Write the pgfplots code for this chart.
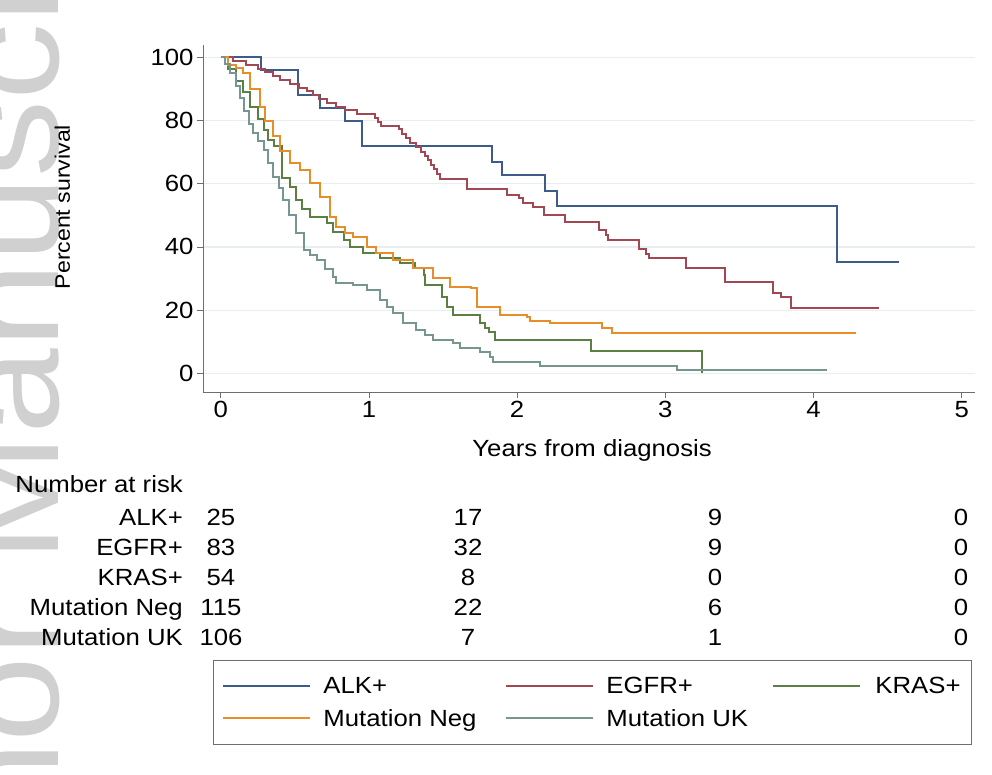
\documentclass[border=0pt]{standalone}
\usepackage{fontspec}
\setmainfont{Liberation Sans}[FakeStretch=1.1]
\usepackage{pgfplots}
\pgfplotsset{compat=1.18}
\definecolor{cALK}{RGB}{62,92,138}
\definecolor{cEGFR}{RGB}{162,72,84}
\definecolor{cKRAS}{RGB}{92,128,68}
\definecolor{cNEG}{RGB}{232,142,40}
\definecolor{cUK}{RGB}{118,150,144}
\definecolor{gridc}{RGB}{232,238,240}
\definecolor{axisc}{RGB}{110,110,110}
\definecolor{wmark}{RGB}{208,208,208}
\newcommand{\fs}{\fontsize{23.4}{28}\selectfont}
\begin{document}
\begin{tikzpicture}
\useasboundingbox (0pt,0pt) rectangle (992pt,774pt);
\node[rotate=90, anchor=base west, text=wmark, font=\fontsize{140}{140}\selectfont, inner sep=0pt] at (58pt,-285pt) {Author Manuscript};
\begin{axis}[
  at={(203pt,382pt)}, anchor=south west,
  scale only axis, width=772pt, height=347pt,
  xmin=-0.12, xmax=5.09, ymin=-5.9, ymax=103.9,
  axis x line*=bottom, axis y line*=left,
  axis line style={axisc, line width=1pt},
  xtick={0,1,2,3,4,5}, ytick={0,20,40,60,80,100},
  tick align=outside, major tick length=6pt,
  tick style={axisc, line width=0.8pt},
  ymajorgrids, grid style={gridc, line width=1.2pt},
  tick label style={font=\fs},
  /pgf/number format/assume math mode=true,
  xlabel={Years from diagnosis},
  xlabel style={at={(axis description cs:0.504,-0.167)}, anchor=center, font=\fs},
  ylabel={Percent survival},
  ylabel style={at={(axis description cs:-0.182,0.533)}, anchor=center, font=\fontsize{21}{25}\selectfont},
  const plot, no markers,
  every axis plot/.append style={line width=2pt},
  legend columns=3,
  legend image code/.code={\draw[#1] (0pt,0pt) -- (87pt,0pt);},
  legend style={at={(axis description cs:0.013,-0.772)}, anchor=north west,
    draw=axisc, line width=0.8pt, inner xsep=9pt, inner ysep=15pt,
    font=\fs, column sep=0pt, row sep=10pt, cells={anchor=west}},
]
\addplot[cALK] coordinates {(0,100)(0.27,96)(0.52,88)(0.67,84)(0.84,80)(0.955,72)(1.83,67)(1.895,62.7)(2.19,57.8)(2.27,53)(4.16,35.3)(4.58,35.3)};
\addlegendentry{\hspace*{10pt}\makebox[180pt][l]{ALK+}}
\addplot[cEGFR] coordinates {(0,100)(0.08,98.8)(0.17,97.6)(0.25,96.4)(0.30,95.2)(0.35,94.0)(0.40,92.8)(0.47,91.6)(0.53,90.4)(0.58,89.2)(0.62,88.0)(0.66,86.8)(0.72,85.6)(0.78,84.4)(0.84,83.2)(0.92,82.0)(1.04,80.8)(1.06,79.6)(1.08,78.4)(1.20,77.2)(1.22,75.8)(1.25,74.4)(1.28,73.0)(1.32,71.6)(1.35,70.2)(1.38,68.8)(1.40,67.4)(1.42,66.0)(1.44,64.6)(1.46,63.2)(1.48,61.5)(1.66,58.2)(1.93,56.4)(2.01,55.4)(2.04,53.8)(2.11,52.7)(2.18,50.1)(2.32,48.0)(2.55,45.3)(2.60,43.7)(2.615,42.2)(2.82,39.5)(2.87,37.8)(2.89,36.4)(3.14,33.2)(3.40,29.0)(3.73,25.3)(3.78,24.2)(3.85,20.6)(4.44,20.6)};
\addlegendentry{\hspace*{10pt}\makebox[164pt][l]{EGFR+}}
\addplot[cKRAS] coordinates {(0,100)(0.05,96.3)(0.10,92.6)(0.15,88.9)(0.20,84.4)(0.25,80.5)(0.29,77)(0.32,73.8)(0.36,72)(0.41,61.7)(0.47,59.1)(0.51,54.8)(0.55,52)(0.60,49.6)(0.715,47.5)(0.76,44.8)(0.83,42.2)(0.87,40.1)(0.96,38.0)(1.075,36.4)(1.21,34.8)(1.31,33.2)(1.37,31.1)(1.38,27.9)(1.49,24.2)(1.53,21)(1.57,18.4)(1.75,15.8)(1.78,14.5)(1.81,13.2)(1.85,10.5)(2.50,7.2)(3.245,0)(3.245,0)};
\addlegendentry{\hspace*{12pt}KRAS+}
\addplot[cNEG] coordinates {(0,100)(0.05,97.5)(0.10,96.5)(0.15,94.9)(0.20,90)(0.265,84.4)(0.30,80)(0.35,75)(0.40,70.5)(0.47,66.5)(0.535,64.5)(0.60,60.1)(0.67,55.9)(0.74,49.6)(0.78,46.4)(0.84,44.5)(0.895,43.2)(0.985,40.1)(1.05,38)(1.165,35.9)(1.30,33.2)(1.435,30.1)(1.55,27.4)(1.69,26.9)(1.73,21.1)(1.885,18.4)(2.065,17.9)(2.09,16.6)(2.22,16.0)(2.57,14.5)(2.64,12.7)(4.29,12.7)};
\addlegendentry{\hspace*{10pt}\makebox[180pt][l]{Mutation Neg}}
\addplot[cUK] coordinates {(0,100)(0.03,98)(0.06,95)(0.10,91)(0.13,87)(0.16,83)(0.19,79)(0.22,76)(0.25,73.5)(0.29,70.7)(0.32,66.5)(0.355,62.2)(0.39,58.5)(0.42,54.8)(0.46,50)(0.51,44.3)(0.56,39)(0.60,37.5)(0.65,35.9)(0.70,33)(0.76,30.6)(0.78,28.5)(0.895,27.9)(0.985,26.4)(1.075,23.2)(1.12,21)(1.165,19)(1.23,15.8)(1.32,13.7)(1.38,12)(1.43,10.5)(1.57,9.5)(1.615,7.9)(1.75,6.8)(1.82,5.3)(1.84,3.7)(2.155,2.3)(3.08,1.0)(4.09,1.0)};
\addlegendentry{\hspace*{10pt}\makebox[164pt][l]{Mutation UK}}
\end{axis}
\begin{scope}[every node/.style={font=\fs, inner sep=0pt}]
\node[anchor=base east] at (183pt,282pt) {Number at risk};
\node[anchor=base east] at (183pt,249pt) {ALK+};
\node[anchor=base east] at (183pt,219pt) {EGFR+};
\node[anchor=base east] at (183pt,189pt) {KRAS+};
\node[anchor=base east] at (183pt,158.5pt) {Mutation Neg};
\node[anchor=base east] at (183pt,128.5pt) {Mutation UK};
\foreach \y/\a/\b/\c/\d in {249/25/17/9/0, 219/83/32/9/0, 189/54/8/0/0, 158.5/115/22/6/0, 128.5/106/7/1/0}{
  \node[anchor=base] at (221pt,\y pt) {\a};
  \node[anchor=base] at (468pt,\y pt) {\b};
  \node[anchor=base] at (715pt,\y pt) {\c};
  \node[anchor=base] at (961pt,\y pt) {\d};
}
\end{scope}
\end{tikzpicture}
\end{document}
